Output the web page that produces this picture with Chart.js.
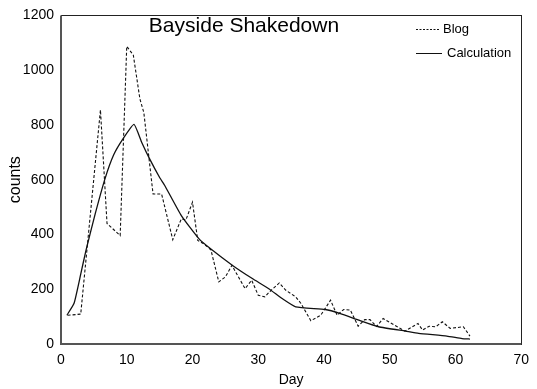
<!DOCTYPE html>
<html>
<head>
<meta charset="utf-8">
<script src="https://cdn.jsdelivr.net/npm/chart.js@4/dist/chart.umd.min.js"></script>
<style>
  html, body { margin: 0; padding: 0; background: #fff; }
  #wrap { width: 537px; height: 389px; position: relative; }
</style>
</head>
<body>
<div id="wrap"><canvas id="c" width="537" height="389"></canvas></div>
<script>
const chartTitle = "Bayside Shakedown";
const seriesNames = ["Blog", "Calculation"];

const blogDays = [1, 3, 6, 7, 9, 10, 11, 12, 12.6, 14, 15.3, 17, 18.3, 19, 20, 20.8, 21.7, 22.8, 24, 25, 26, 28, 29, 30, 31, 31.7, 33.2, 34.2, 35.7, 36.5, 38, 39.5, 41, 42, 43, 44, 45.2, 46.2, 47, 48, 49, 52.3, 54.3, 55, 56, 57, 58, 59.2, 61.2, 62.2];
const blogCounts = [105, 109, 855, 440, 396, 1087, 1055, 895, 845, 548, 548, 381, 457, 453, 518, 378, 366, 344, 227, 245, 287, 202, 233, 178, 172, 190, 223, 196, 172, 148, 85, 105, 160, 105, 126, 124, 65, 89, 89, 64, 93, 47, 75, 51, 65, 63, 81, 57, 63, 29];

const calcDays = [0.9, 2.0, 3.0, 3.8, 5.2, 6.7, 8.0, 9.4, 11.1, 12.3, 13.5, 15.0, 15.8, 18.3, 21.0, 22.9, 26.1, 29.1, 31.6, 33.7, 35.7, 40.2, 42.5, 45.3, 48.3, 52.4, 54.4, 58.7, 61.0, 62.2];
const calcCounts = [105, 150, 255, 342, 475, 604, 690, 748, 802, 735, 675, 608, 578, 469, 384, 345, 287, 239, 202, 165, 136, 126, 111, 87, 63, 47, 39, 29, 20, 18];

const xTickValues = [0, 10, 20, 30, 40, 50, 60, 70];
const yTickValues = [0, 200, 400, 600, 800, 1000, 1200];

const toXY = (xs, ys) => xs.map((x, i) => ({ x: x, y: ys[i] }));

const FONT = "'Liberation Sans', Arial, sans-serif";

const boxAndLabels = {
  id: 'boxAndLabels',
  afterDatasetsDraw(chart) {
    const { ctx, chartArea: a } = chart;
    ctx.save();
    ctx.strokeStyle = '#222';
    ctx.lineWidth = 1;
    ctx.strokeRect(Math.round(a.left) + 0.5, Math.round(a.top) + 0.5, Math.round(a.right - a.left), Math.round(a.bottom - a.top));
    ctx.strokeStyle = '#555';
    ctx.lineWidth = 2;
    ctx.beginPath();
    ctx.moveTo(a.left, a.top);
    ctx.lineTo(a.left, a.bottom);
    ctx.lineTo(a.right, a.bottom);
    ctx.stroke();
    ctx.fillStyle = '#000';
    ctx.font = "21px " + FONT;
    ctx.textAlign = 'center';
    ctx.textBaseline = 'middle';
    ctx.fillText(chartTitle, 244, 26);
    ctx.font = "13px " + FONT;
    ctx.textAlign = 'left';
    const items = [
      { y: 29, dash: [2, 1.5], label: seriesNames[0], x0: 416, x1: 439, tx: 443 },
      { y: 53, dash: [], label: seriesNames[1], x0: 416, x1: 442, tx: 447 }
    ];
    items.forEach(it => {
      ctx.strokeStyle = '#111';
      ctx.lineWidth = 1;
      ctx.setLineDash(it.dash);
      ctx.beginPath();
      ctx.moveTo(it.x0, it.y + 0.5);
      ctx.lineTo(it.x1, it.y + 0.5);
      ctx.stroke();
      ctx.setLineDash([]);
      ctx.fillText(it.label, it.tx, it.y);
    });
    ctx.restore();
  }
};

new Chart(document.getElementById('c'), {
  type: 'line',
  data: {
    datasets: [
      {
        label: seriesNames[0],
        data: toXY(blogDays, blogCounts),
        borderColor: '#111',
        borderWidth: 1.1,
        borderDash: [3, 2],
        pointRadius: 0,
        tension: 0,
        fill: false
      },
      {
        label: seriesNames[1],
        data: toXY(calcDays, calcCounts),
        borderColor: '#111',
        borderWidth: 1.3,
        pointRadius: 0,
        tension: 0.15,
        fill: false
      }
    ]
  },
  options: {
    responsive: false,
    animation: false,
    devicePixelRatio: 1,
    layout: { padding: { top: 14, right: 14, left: 0, bottom: 0 } },
    plugins: {
      legend: { display: false },
      title: { display: false },
      tooltip: { enabled: false }
    },
    scales: {
      x: {
        type: 'linear',
        min: 0, max: 70,
        afterBuildTicks: s => { s.ticks = xTickValues.map(v => ({ value: v })); },
        afterFit: s => { s.height = 45; },
        grid: { display: false, drawTicks: false },
        border: { display: false },
        ticks: { color: '#000', font: { size: 14, family: FONT }, padding: 8, maxRotation: 0, callback: v => String(v) },
        title: { display: true, text: 'Day', color: '#000', font: { size: 14, family: FONT }, padding: { top: 0, bottom: 0 } }
      },
      y: {
        type: 'linear',
        min: 0, max: 1200,
        afterBuildTicks: s => { s.ticks = yTickValues.map(v => ({ value: v })); },
        afterFit: s => { s.width = 61; },
        grid: { display: false, drawTicks: false },
        border: { display: false },
        ticks: { color: '#000', font: { size: 14, family: FONT }, padding: 7, callback: v => String(v) },
        title: { display: true, text: 'counts', color: '#000', font: { size: 16, family: FONT }, padding: { top: 6, bottom: 0 } }
      }
    }
  },
  plugins: [boxAndLabels]
});
</script>
</body>
</html>
